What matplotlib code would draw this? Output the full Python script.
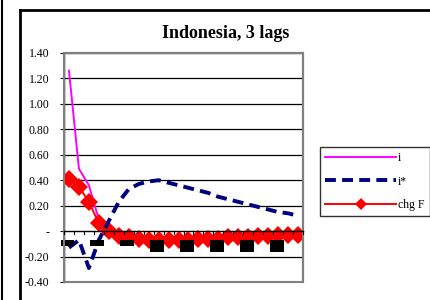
import matplotlib
matplotlib.use("Agg")
import matplotlib.pyplot as plt
from matplotlib.lines import Line2D
from matplotlib.patches import Rectangle
import numpy as np

plt.rcParams['font.family'] = ['Liberation Serif', 'DejaVu Serif']

title = "Indonesia, 3 lags"
labels = ["i", "i*", "chg F"]
n_periods = 24
i_vals = [1.26, 0.49, 0.36, 0.09, -0.01, -0.03, -0.04, -0.04, -0.05, -0.05, -0.05, -0.05,
          -0.05, -0.05, -0.04, -0.04, -0.04, -0.04, -0.03, -0.03, -0.03, -0.03, -0.02, -0.02]
istar_vals = [-0.13, -0.07, -0.29, -0.07, 0.08, 0.23, 0.33, 0.37, 0.39, 0.40, 0.38, 0.36,
              0.34, 0.32, 0.30, 0.27, 0.25, 0.23, 0.21, 0.19, 0.17, 0.15, 0.14, 0.12]
chgF_vals = [0.41, 0.35, 0.23, 0.06, 0.00, -0.04, -0.05, -0.06, -0.07, -0.07, -0.07, -0.07,
             -0.07, -0.06, -0.06, -0.06, -0.05, -0.05, -0.05, -0.04, -0.04, -0.03, -0.03, -0.03]
# black label boxes below the axis
box_pos = [-0.15, 2.85, 5.85, 8.85, 11.85, 14.85, 17.85, 20.85]
box_top = [-0.07] * 8
box_bottom = [-0.12, -0.12, -0.12, -0.165, -0.165, -0.165, -0.165, -0.165]
yticks = [-0.40, -0.20, 0.0, 0.20, 0.40, 0.60, 0.80, 1.00, 1.20, 1.40]
ytick_labels = ["-0.40", "-0.20", "-", "0.20", "0.40", "0.60", "0.80", "1.00", "1.20", "1.40"]

W, H = 430, 300
fig = plt.figure(figsize=(W / 100, H / 100), dpi=100)
ax = fig.add_axes([64 / W, 1 - 282 / H, (303 - 64) / W, (282 - 53) / H])

x = np.arange(n_periods)
ax.set_xlim(-0.5, n_periods - 0.5)
ax.set_ylim(-0.40, 1.40)

for y in yticks:
    if y != 0.0:
        ax.axhline(y, color='black', lw=0.9, zorder=1)

ax.plot(x, i_vals, color='#FF00FF', lw=1.4, zorder=3, label=labels[0])
ax.plot(x, istar_vals, color='#000080', lw=2.8, dashes=(2.8, 1.6), zorder=4, label=labels[1])
ax.plot(x, chgF_vals, color='#FF0000', lw=1.4, marker='D', markersize=9.5,
        markeredgewidth=0, zorder=3, label=labels[2])

for p, t, b in zip(box_pos, box_top, box_bottom):
    ax.add_patch(Rectangle((p - 0.7, b), 1.4, t - b, facecolor='black', edgecolor='none',
                           zorder=5, clip_on=False))

# spines
for s in ['top', 'right']:
    ax.spines[s].set_color('#808080')
    ax.spines[s].set_linewidth(1.5)
ax.spines['bottom'].set_visible(False)
ax.spines['left'].set_color('black')
ax.spines['left'].set_linewidth(1.0)
ax.add_patch(Rectangle((0, 0), 1, 1, transform=ax.transAxes, fill=False,
                       edgecolor='#808080', lw=1.5, zorder=6, clip_on=False))
ax.plot([0, 1], [0, 0], transform=ax.get_yaxis_transform(), color='black', lw=1.0,
        zorder=6, clip_on=False)
for k in range(n_periods + 1):
    ax.plot([k - 0.5, k - 0.5], [0, -0.025], color='black', lw=0.8, zorder=6, clip_on=False)

ax.set_xticks([])
ax.set_yticks(yticks)
ax.set_yticklabels(ytick_labels, fontsize=8.5)
ax.tick_params(axis='y', direction='out', length=3, width=0.8, pad=7.5)

leg = fig.legend(loc='upper left', bbox_to_anchor=(320 / W, 1 - 147 / H), fontsize=8.5,
                 frameon=True, fancybox=False, handlelength=6.0, handletextpad=0.15,
                 labelspacing=0.95, borderpad=0.45, markerscale=0.6, borderaxespad=0)
leg.get_frame().set_edgecolor('black')
leg.get_frame().set_linewidth(1.0)

fig.text(226 / W, 1 - 33 / H, title, ha='center', va='center', fontsize=13,
         fontweight='bold')

# outer frames
fig.add_artist(Line2D([20 / W, 20 / W], [0, 1 - 10 / H], color='black', lw=2))
fig.add_artist(Line2D([20 / W, 1], [1 - 10 / H, 1 - 10 / H], color='black', lw=2))
fig.add_artist(Line2D([2 / W, 2 / W], [0, 1], color='black', lw=1.5))

fig.savefig("out.png", dpi=100)
